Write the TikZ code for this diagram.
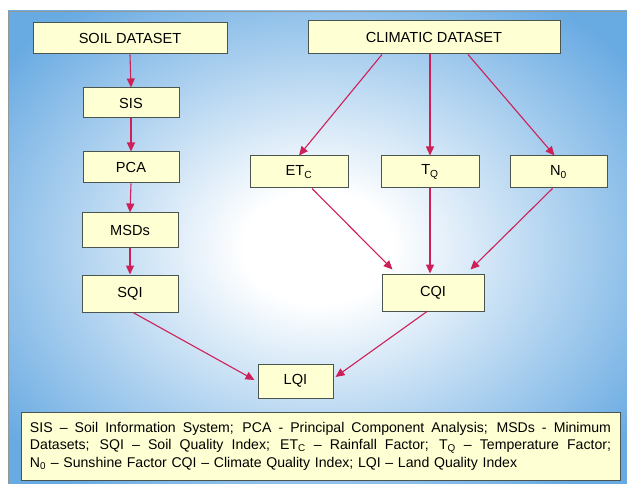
\documentclass[tikz,border=0pt]{standalone}
\usepackage{fontspec}
\setmainfont{Liberation Sans}
\usetikzlibrary{arrows.meta,calc}
\definecolor{bgblue}{RGB}{104,170,226}
\definecolor{boxfill}{RGB}{255,255,212}
\definecolor{boxline}{RGB}{75,85,80}
\definecolor{arrowc}{RGB}{206,32,88}
\pgfdeclareradialshading{glow}{\pgfpoint{0bp}{0bp}}{color(0bp)=(white); color(6bp)=(white); color(32bp)=(bgblue); color(50bp)=(bgblue)}
\newcommand{\jline}[1]{\leavevmode{\spaceskip=0.28em plus 1fil\hbox to 581pt{#1}}}
\tikzset{
  box/.style={draw=boxline, line width=1pt, fill=boxfill, inner sep=0pt, font=\fontsize{14.6}{17}\selectfont},
  conn/.style={draw=arrowc, line width=1.1pt, -{Triangle[length=9pt,width=8pt]}}
}
\begin{document}
\begin{tikzpicture}[x=1pt,y=-1pt]
\useasboundingbox (0,0) rectangle (627,484);
\shade[shading=glow] (8,11) rectangle (627,484);
\draw[boxline!60, line width=0.8pt] (8,484) -- (8,11) -- (627,11);
% nodes
\node[box, minimum width=194pt, minimum height=31pt] (soil) at (130,38.5) {SOIL DATASET};
\node[box, minimum width=96pt, minimum height=30pt] (sis) at (131,103) {SIS};
\node[box, minimum width=96pt, minimum height=31pt] (pca) at (131,167.5) {PCA};
\node[box, minimum width=96pt, minimum height=34pt] (msds) at (130,230) {MSDs};
\node[box, minimum width=96pt, minimum height=37pt] (sqi) at (130,293.5) {SQI};
\node[box, minimum width=252pt, minimum height=33pt] (clim) at (434,37.5) {CLIMATIC DATASET};
\node[box, minimum width=98pt, minimum height=32pt] (etc) at (299,172) {ET\textsubscript{C}};
\node[box, minimum width=98pt, minimum height=32pt] (tq) at (430,172) {T\textsubscript{Q}};
\node[box, minimum width=97pt, minimum height=32pt] (n0) at (558.5,172) {N\textsubscript{0}};
\node[box, minimum width=102pt, minimum height=37pt] (cqi) at (433,292.5) {CQI};
\node[box, minimum width=75pt, minimum height=34pt] (lqi) at (295.5,381) {LQI};
\node[box, minimum width=599pt, minimum height=68pt, text width=581pt, align=left,
      font=\fontsize{14.1}{17.5}\selectfont] (leg) at (320.5,446) {%
\jline{SIS -- Soil Information System; PCA - Principal Component Analysis; MSDs - Minimum}\\
\jline{Datasets; SQI -- Soil Quality Index; ET\textsubscript{C} -- Rainfall Factor; T\textsubscript{Q} -- Temperature Factor;}\\
N\textsubscript{0} -- Sunshine Factor CQI -- Climate Quality Index; LQI -- Land Quality Index};
% connectors
\draw[conn] (soil.south) -- (sis.north);
\draw[conn] (sis.south) -- (pca.north);
\draw[conn] (pca.south) -- (msds.north);
\draw[conn] (msds.south) -- (sqi.north);
\draw[conn] ($(clim.south)+(-52,0)$) -- (etc.north);
\draw[conn] ($(clim.south)+(-4,0)$) -- (tq.north);
\draw[conn] ($(clim.south)+(34,0)$) -- ($(n0.north)+(-4,0)$);
\draw[conn] ($(etc.south)+(13,0)$) -- ($(cqi.north west)+(11,-4)$);
\draw[conn] (tq.south) -- ($(cqi.north)+(-3,0)$);
\draw[conn] ($(n0.south)+(-6,0)$) -- ($(cqi.north east)+(-14,-4)$);
\draw[conn] ($(sqi.south)+(3,0)$) -- ($(lqi.west)+(-3,-1)$);
\draw[conn] ($(cqi.south)+(-6,0)$) -- ($(lqi.east)+(2,-4)$);
\end{tikzpicture}
\end{document}
